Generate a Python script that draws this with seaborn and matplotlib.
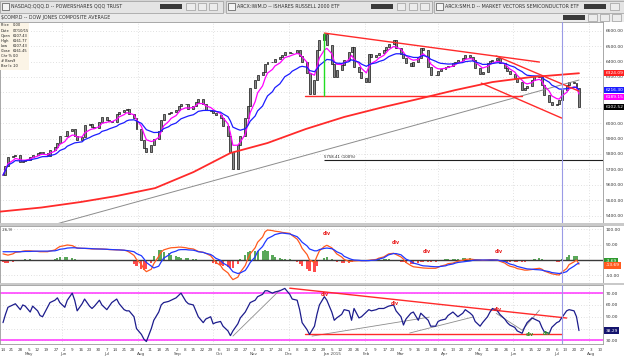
import numpy as np
import pandas as pd
import matplotlib
matplotlib.use('Agg')
import matplotlib.pyplot as plt
import matplotlib.dates as mdates
from matplotlib.patches import Rectangle
from matplotlib.ticker import FuncFormatter
from matplotlib.transforms import blended_transform_factory
import seaborn as sns

sns.set_theme(style='white')
plt.rcParams['font.family'] = ['DejaVu Sans']

W, H = 624, 357

# ---------------- data ----------------
start = '2014-04-14'
n_bars = 168  # one value every second trading day

close = [5663, 5721, 5780, 5786, 5793, 5747, 5754, 5760, 5780, 5793,
         5806, 5812, 5806, 5786, 5825, 5845, 5871, 5916, 5916, 5949,
         5962, 5916, 5890, 5910, 5988, 5994, 5975, 5968, 6007, 6040,
         6020, 6014, 6007, 6059, 6072, 6085, 6092, 6059, 6033, 5962,
         5890, 5838, 5812, 5858, 5897, 5949, 6020, 6059, 6066, 6072,
         6085, 6111, 6124, 6124, 6092, 6111, 6137, 6157, 6124, 6085,
         6079, 6066, 6053, 6033, 5981, 5916, 5812, 5700, 5858, 5916,
         6033, 6111, 6228, 6280, 6312, 6332, 6384, 6397, 6397, 6416,
         6429, 6442, 6462, 6455, 6455, 6475, 6436, 6397, 6325, 6190,
         6280, 6475, 6540, 6578, 6507, 6384, 6299, 6345, 6377, 6410,
         6462, 6494, 6364, 6332, 6293, 6267, 6449, 6429, 6442, 6455,
         6475, 6494, 6514, 6540, 6488, 6449, 6423, 6390, 6371, 6397,
         6423, 6488, 6475, 6364, 6312, 6312, 6338, 6351, 6364, 6371,
         6390, 6397, 6410, 6423, 6442, 6429, 6410, 6358, 6319, 6332,
         6390, 6403, 6410, 6423, 6390, 6358, 6338, 6319, 6293, 6267,
         6215, 6228, 6241, 6280, 6306, 6299, 6247, 6182, 6137, 6117,
         6124, 6150, 6215, 6247, 6267, 6260, 6228, 6102.52]

macd = [20, 18, 16, 20, 25, 27, 29, 30, 30, 29,
        28, 27, 27, 27, 29, 33, 39, 44, 47, 49,
        47, 43, 39, 38, 38, 37, 36, 36, 36, 36,
        35, 34, 34, 33, 33, 32, 30, 26, 15, 2,
        -14, -30, -38, -30, -12, 12, 26, 33, 38, 40,
        41, 42, 42, 40, 38, 36, 32, 28, 25, 22,
        14, 4, -7, -18, -30, -42, -54, -64, -56, -40,
        -18, 3, 20, 40, 58, 75, 92, 98, 96, 94,
        92, 90, 89, 87, 80, 68, 55, 38, 18, 0,
        -8, 12, 30, 44, 48, 40, 30, 20, 10, 2,
        -5, -4, -3, -2, -2, -2, -1, 0, 2, 6,
        10, 15, 20, 22, 18, 10, 3, -8, -18, -22,
        -24, -25, -26, -27, -27, -27, -24, -20, -16, -12,
        -10, -7, -4, -1, 2, 3, 2, 1, 0, -1,
        0, 1, 1, 0, -4, -10, -16, -20, -24, -28,
        -31, -33, -33, -31, -29, -27, -30, -36, -42, -45,
        -48, -49, -40, -28, -15, -6, 0, -13.69]

signal = [27, 27, 27, 27, 27, 27, 27.5, 28, 28, 28.5,
          29, 29, 29, 29, 29.5, 30, 32, 35, 37, 39,
          40, 40, 39, 38.5, 38, 37.5, 37, 36.5, 36, 35.5,
          35, 34.5, 34, 33.5, 33, 32, 31, 30, 27, 21,
          14, 4, -8, -20, -26, -20, -6, 6, 16, 24,
          29, 33, 34, 34, 33, 32, 30, 27, 25, 22,
          18, 13, 6, -1, -10, -19, -28, -38, -44, -42,
          -34, -22, -8, 10, 28, 44, 58, 70, 78, 83,
          87, 88, 87, 85, 82, 76, 68, 58, 46, 36,
          30, 30, 34, 38, 39, 37, 33, 27, 20, 12,
          5, 2, 0, -1, -2, -2, -2, -1, 0, 3,
          7, 12, 17, 21, 21, 17, 10, 3, -4, -10,
          -14, -17, -19, -20, -21, -22, -22, -21, -19, -16,
          -13, -10, -8, -6, -5, -3, -1, 0, 0, 0,
          0, 0, 0, 0, -2, -5, -9, -13, -17, -21,
          -25, -27, -29, -30, -31, -32, -33, -35, -38, -41,
          -43, -44, -43, -38, -30, -20, -14, -10]

rsi = [45, 52, 58, 60, 61, 56, 60, 59, 54, 59,
       55, 51, 50, 58, 62, 64, 66, 62, 58, 64,
       70, 64, 55, 61, 65, 59, 57, 59, 64, 60,
       56, 59, 62, 65, 61, 56, 55, 55, 50, 40,
       35, 31, 29, 40, 47, 54, 60, 62, 63, 64,
       66, 68, 70, 63, 61, 60, 55, 50, 45, 48,
       50, 44, 45, 46, 42, 38, 34, 38, 44, 49,
       54, 58, 62, 64, 67, 69, 72, 72, 70, 71,
       72, 73, 74, 69, 65, 64, 56, 45, 39, 35,
       42, 52, 60, 67, 64, 54, 47, 49, 52, 56,
       55, 47, 57, 49, 50, 54, 56, 55, 56, 57,
       57, 58, 59, 60, 55, 50, 43, 48, 53, 54,
       47, 53, 51, 47, 42, 42, 46, 47, 48, 51,
       54, 52, 50, 53, 56, 53, 51, 46, 42, 45,
       50, 54, 57, 55, 52, 48, 45, 43, 41, 38,
       36, 41, 45, 49, 48, 46, 41, 37, 36, 41,
       45, 46, 49, 55, 56, 55, 50, 38.29]

ma200_dates = ['2014-04-11', '2014-05-15', '2014-06-16', '2014-07-15', '2014-08-15',
               '2014-09-15', '2014-10-15', '2014-11-14', '2014-12-15', '2015-01-15',
               '2015-02-16', '2015-03-16', '2015-04-15', '2015-05-15', '2015-06-15',
               '2015-07-24']
ma200 = [5425, 5452, 5488, 5527, 5578, 5682, 5806, 5871, 5962, 6040,
         6105, 6157, 6215, 6267, 6299, 6324.09]

# hand drawn trendlines on the price panel
price_lines = [
    (['2014-12-30', '2015-06-22'], [6585, 6397]),   # falling resistance
    (['2015-05-18', '2015-07-24'], [6436, 6208]),   # channel top
    (['2015-05-06', '2015-07-10'], [6260, 6033]),   # channel bottom
    (['2014-12-14', '2015-06-08'], [6176, 6176]),   # support
]
long_trend_dates = ['2014-05-24', '2015-07-24']
long_trend_vals = [5338, 6280]
fib_date = '2014-12-30'
fib_level = 5758.41
spike_date = '2014-12-30'
spike_range = [6176, 6585]
marker_date = '2015-07-10'

# rsi panel annotations
rsi_red_lines = [
    (['2014-12-02', '2015-07-14'], [74.2, 48.9]),
    (['2014-12-14', '2015-07-10'], [35.4, 35.4]),
]
rsi_gray_lines = [
    (['2014-10-17', '2014-11-24'], [33.6, 72.6]),
    (['2014-12-20', '2015-03-25'], [33.6, 49.7]),
    (['2015-03-09', '2015-04-29'], [36.2, 49.7]),
    (['2015-05-18', '2015-06-08'], [52.9, 38.6]),
    (['2015-06-08', '2015-06-22'], [38.6, 55.6]),
]
macd_div_dates = ['2015-01-01', '2015-02-26', '2015-03-23', '2015-05-20']
macd_div_vals = [88, 56, 29, 29]
rsi_div_dates = ['2014-12-30', '2015-02-25', '2015-05-19']
rsi_div_vals = [69.2, 60.8, 56.5]
rsi_gdiv_dates = ['2015-06-14', '2015-06-28']
rsi_gdiv_vals = [35.3, 36.2]

info_labels = ['Price', 'Date', 'Open', 'High', 'Low', 'Close', 'Chr %', '# Bars', 'Bar Ix']
info_values = ['0.00', '07/10/15', '6107.43', '6161.77', '6107.43', '6161.45', '0.0', '9', '-10']

holidays = ['2014-05-26', '2014-09-01', '2015-01-19', '2015-02-16', '2015-05-25']

# ---------------- derived series ----------------
dates = pd.bdate_range(start, periods=n_bars, freq='2B')
s = pd.Series(close, index=dates)
ma_fast = s.ewm(span=5).mean()
ma_slow = s.ewm(span=15).mean()
hist = np.array(macd) - np.array(signal)

# ---------------- figure ----------------
fig = plt.figure(figsize=(W / 100, H / 100), dpi=100, facecolor='white')


def px_axes(x0, y0, x1, y1):
    return fig.add_axes([x0 / W, 1 - y1 / H, (x1 - x0) / W, (y1 - y0) / H])


def frect(x0, y0, x1, y1, **kw):
    fig.patches.append(Rectangle((x0 / W, 1 - y1 / H), (x1 - x0) / W, (y1 - y0) / H,
                                 transform=fig.transFigure, **kw))


def ftext(x, y, s, **kw):
    fig.text(x / W, 1 - y / H, s, **kw)


# window chrome
frect(0, 0, 624, 13, fc='#d5d5d5', ec='none')
frect(0, 13, 624, 22, fc='#ebebeb', ec='none')
tabs = [(0, 223, 'NASDAQ:QQQ.D -- POWERSHARES QQQ TRUST', 160),
        (226, 432, 'ARCX:IWM.D -- ISHARES RUSSELL 2000 ETF', 371),
        (434, 626, 'ARCX:SMH.D -- MARKET VECTORS SEMICONDUCTOR ETF', 584)]
for x0, x1, title, logo_x in tabs:
    frect(x0, 1, x1, 12.5, fc='#e4e4e4', ec='#9a9a9a', lw=0.5)
    frect(x0 + 2, 3, x0 + 9, 10, fc='#f4f4f4', ec='#505050', lw=0.5)
    ftext(x0 + 11, 6.5, title, fontsize=3.4, color='#303030', va='center')
    frect(logo_x, 4, logo_x + 22, 9, fc='#3a3a3a', ec='none')
    for b in range(3):
        bx = logo_x + 26 + b * 11.5
        if bx < 620:
            frect(bx, 3.5, bx + 8.5, 9.5, fc='#ececec', ec='#8a8a8a', lw=0.4)
ftext(1, 17.5, '$COMP.D -- DOW JONES COMPOSITE AVERAGE', fontsize=3.4, color='#303030', va='center')
frect(563, 15, 585, 20, fc='#3a3a3a', ec='none')
for bx in [588, 600, 612]:
    frect(bx, 14.5, bx + 8.5, 20.5, fc='#ececec', ec='#8a8a8a', lw=0.4)

# separators between panels
frect(0, 223, 624, 226, fc='#c9c9c9', ec='none')
frect(0, 283, 624, 285, fc='#c9c9c9', ec='none')

ax_p = px_axes(0, 22, 603, 224)
ax_m = px_axes(0, 226, 603, 283)
ax_r = px_axes(0, 285, 603, 344)

x_left = mdates.date2num(pd.Timestamp(start)) - 2.43
x_right = x_left + 603 / 1.236
month_grid = pd.to_datetime(['2014-06-01', '2014-08-01', '2014-10-01', '2014-12-01',
                             '2015-02-01', '2015-04-01', '2015-06-01', '2015-08-01'])


def fmt_skip(hidden):
    # tick labels hidden behind the value boxes on the right
    return FuncFormatter(lambda v, pos: '' if any(abs(v - h) < 1e-6 for h in hidden) else f'{v:.2f}')


for ax in (ax_p, ax_m, ax_r):
    ax.set_facecolor('white')
    ax.set_xlim(x_left, x_right)
    for sp in ax.spines.values():
        sp.set_color('#9a9a9a')
        sp.set_linewidth(0.6)
    ax.yaxis.tick_right()
    ax.tick_params(axis='y', labelsize=3.2, length=0, pad=2, colors='#333333')
    ax.grid(axis='y', color='#c4c4c4', lw=0.5, ls=(0, (1, 3)))
    for d in month_grid:
        ax.axvline(d, color='#c8c8c8', lw=0.5, ls=(0, (1, 3)), zorder=0)
    ax.axvline(pd.Timestamp(marker_date), color='#9a9ae6', lw=0.8, zorder=5)

# ---- price panel ----
prev = np.array([close[0]] + close[:-1])
cur = np.array(close)
lo = np.minimum(prev, cur)
hi = np.maximum(prev, cur)
ax_p.bar(dates, hi - lo, bottom=lo, width=1.6, color='#8a8a8a', edgecolor='black',
         linewidth=0.45, zorder=3)
sns.lineplot(x=dates, y=ma_fast.values, ax=ax_p, color='#ff00ff', lw=0.9, zorder=4)
sns.lineplot(x=dates, y=ma_slow.values, ax=ax_p, color='#1c1cff', lw=0.9, zorder=4)
sns.lineplot(x=pd.to_datetime(ma200_dates), y=ma200, ax=ax_p, color='#ff2a2a', lw=1.3, zorder=4)
sns.lineplot(x=pd.to_datetime(long_trend_dates), y=long_trend_vals, ax=ax_p,
             color='#8c8c8c', lw=0.7, zorder=3)
for ds, vs in price_lines:
    sns.lineplot(x=pd.to_datetime(ds), y=vs, ax=ax_p, color='#ff2a2a', lw=1.0, zorder=4)
ax_p.vlines(pd.Timestamp(spike_date), spike_range[0], spike_range[1], color='#22dd22', lw=1.0, zorder=4)
ax_p.hlines(fib_level, pd.Timestamp(fib_date), x_right, color='#202020', lw=0.8, zorder=4)
ax_p.text(pd.Timestamp(fib_date), fib_level + 12, f'{fib_level:.2f} (100%)', fontsize=2.8,
          color='#202020', va='bottom', ha='left')
ax_p.set_ylim(5345, 6657)
ax_p.set_yticks(np.arange(5400, 6700, 100))
ax_p.yaxis.set_major_formatter(fmt_skip([6100, 6200]))


def stack_labels(ax, items, gap):
    tr = blended_transform_factory(ax.transAxes, ax.transData)
    last = None
    for val, fc, tc in sorted(items, key=lambda t: -t[0]):
        pos = val if last is None else min(val, last - gap)
        last = pos
        ax.text(1.004, pos, f'{val:.2f}', transform=tr, fontsize=3.2, color=tc,
                ha='left', va='center', zorder=10,
                bbox=dict(boxstyle='square,pad=0.25', fc=fc, ec='none'))


stack_labels(ax_p, [(ma200[-1], '#ff2020', 'white'),
                    (ma_fast.iloc[-1], '#ff00ff', 'white'),
                    (ma_slow.iloc[-1], '#1c1cff', 'white'),
                    (close[-1], 'black', 'white')], 45)

# info box
frect(0, 23, 29, 70, fc='#fbf4e6', ec='none', zorder=20)
for i, (lab, val) in enumerate(zip(info_labels, info_values)):
    ftext(1, 25.5 + i * 5.1, lab, fontsize=2.6, color='#202020', va='center', zorder=21)
    ftext(12.5, 25.5 + i * 5.1, val, fontsize=2.6, color='#202020', va='center', zorder=21)

# ---- MACD panel ----
bar_colors = np.where(hist >= 0, '#5aa85a', '#ff4b4b')
ax_m.bar(dates, hist, width=1.7, color=bar_colors, linewidth=0, zorder=2)
ax_m.axhline(0, color='#3a3a3a', lw=1.0, zorder=3)
sns.lineplot(x=dates, y=macd, ax=ax_m, color='#ff5a1e', lw=0.9, zorder=4)
sns.lineplot(x=dates, y=signal, ax=ax_m, color='#2038ff', lw=0.9, zorder=4)
for d, v in zip(macd_div_dates, macd_div_vals):
    ax_m.text(pd.Timestamp(d), v, 'div', fontsize=3.4, color='#e81c1c', ha='center',
              va='center', fontweight='bold')
ax_m.text(0.002, 0.93, ',26,9)', transform=ax_m.transAxes, fontsize=2.8, color='#303030',
          va='center')
ax_m.set_ylim(-75, 111)
ax_m.set_yticks([-50, 0, 50, 100])
ax_m.yaxis.set_major_formatter(fmt_skip([0]))
stack_labels(ax_m, [(hist[-1], '#2e9a2e', 'white'),
                    (macd[-1], '#ff5a1e', 'white')], 14)

# ---- RSI panel ----
ax_r.axhline(70, color='#ff44ff', lw=1.2, zorder=2)
ax_r.axhline(30, color='#ff44ff', lw=1.2, zorder=2)
for ds, vs in rsi_gray_lines:
    sns.lineplot(x=pd.to_datetime(ds), y=vs, ax=ax_r, color='#8c8c8c', lw=0.6, zorder=3)
for ds, vs in rsi_red_lines:
    sns.lineplot(x=pd.to_datetime(ds), y=vs, ax=ax_r, color='#ff2a2a', lw=1.0, zorder=3)
sns.lineplot(x=dates, y=rsi, ax=ax_r, color='#1c1c8c', lw=0.9, zorder=4)
for d, v in zip(rsi_div_dates, rsi_div_vals):
    ax_r.text(pd.Timestamp(d), v, 'div', fontsize=3.4, color='#e81c1c', ha='center',
              va='center', fontweight='bold', zorder=6)
for d, v in zip(rsi_gdiv_dates, rsi_gdiv_vals):
    ax_r.text(pd.Timestamp(d), v, 'div', fontsize=3.4, color='#2e9a2e', ha='center',
              va='center', fontweight='bold', zorder=6)
ax_r.set_ylim(26.9, 76.9)
ax_r.set_yticks([30, 40, 50, 60, 70])
ax_r.yaxis.set_major_formatter(fmt_skip([40]))
stack_labels(ax_r, [(rsi[-1], '#14146e', 'white')], 5)

# ---- x axis: weekly day numbers + month names ----
weeks = pd.date_range('2014-04-14', '2015-08-10', freq='W-MON')
hol = set(pd.to_datetime(holidays))
weeks = pd.DatetimeIndex([d + pd.Timedelta(days=1) if d in hol else d for d in weeks])
for ax in (ax_p, ax_m):
    ax.set_xticks(weeks)
    ax.tick_params(axis='x', length=0, labelbottom=False)
ax_r.set_xticks(weeks)
ax_r.set_xticklabels([str(d.day) for d in weeks])
ax_r.tick_params(axis='x', labelsize=3.0, length=2, width=0.4, pad=0.6, colors='#444444')
tr = blended_transform_factory(ax_r.transData, ax_r.transAxes)
seen = set()
for d in weeks:
    key = (d.year, d.month)
    if key in seen or (d.year == 2014 and d.month == 4):
        seen.add(key)
        continue
    seen.add(key)
    name = d.strftime('%b') + (' 2015' if (d.year == 2015 and d.month == 1) else '')
    ax_r.text(d, -0.17, name, transform=tr, fontsize=3.0, color='#444444',
              ha='center', va='center')

for ax in (ax_p, ax_m, ax_r):
    ax.set_xlabel('')
    ax.set_ylabel('')
    ax.set_xlim(x_left, x_right)

fig.savefig('out.png', dpi=100, facecolor='white')
